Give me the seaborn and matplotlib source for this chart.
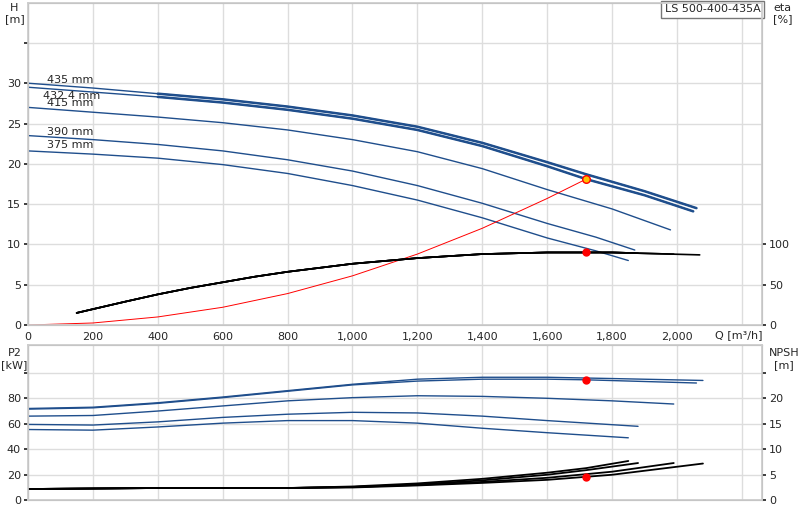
import numpy as np
import pandas as pd
import matplotlib.pyplot as plt
import seaborn as sns

# Q/H curves for each impeller diameter
diameters = ['435 mm', '432.4 mm', '415 mm', '390 mm', '375 mm']
q_h = {
    '435 mm':   [0, 200, 400, 600, 800, 1000, 1200, 1400, 1600, 1720, 1900, 2060],
    '432.4 mm': [0, 200, 400, 600, 800, 1000, 1200, 1400, 1600, 1720, 1900, 2050],
    '415 mm':   [0, 200, 400, 600, 800, 1000, 1200, 1400, 1600, 1800, 1980],
    '390 mm':   [0, 200, 400, 600, 800, 1000, 1200, 1400, 1600, 1750, 1870],
    '375 mm':   [0, 200, 400, 600, 800, 1000, 1200, 1400, 1600, 1750, 1850],
}
h_vals = {
    '435 mm':   [30.0, 29.4, 28.7, 28.0, 27.1, 26.0, 24.6, 22.6, 20.2, 18.7, 16.6, 14.5],
    '432.4 mm': [29.5, 28.9, 28.3, 27.6, 26.7, 25.6, 24.2, 22.2, 19.7, 18.1, 16.1, 14.1],
    '415 mm':   [27.0, 26.4, 25.8, 25.1, 24.2, 23.0, 21.5, 19.4, 16.8, 14.4, 11.8],
    '390 mm':   [23.5, 23.0, 22.4, 21.6, 20.5, 19.1, 17.3, 15.1, 12.6, 10.9, 9.3],
    '375 mm':   [21.6, 21.2, 20.7, 19.9, 18.8, 17.3, 15.5, 13.3, 10.8, 9.2, 8.0],
}
# system curve
sys_q = [0, 200, 400, 600, 800, 1000, 1200, 1400, 1600, 1720]
sys_h = [0, 0.25, 1.0, 2.2, 3.9, 6.1, 8.8, 12.0, 15.7, 18.1]
# efficiency curves (eta %)
eta_q = [150, 300, 400, 500, 600, 700, 800, 1000, 1200, 1400, 1600, 1800, 2070]
eta_vals = [15, 29, 38, 46, 53, 60, 66, 76, 83, 88, 90, 90, 87]
eta_ends = [1850, 1880, 1990, 2070]
# P2 curves
p2_q = {
    '435 mm':   [0, 200, 400, 600, 800, 1000, 1200, 1400, 1600, 1800, 2080],
    '432.4 mm': [0, 200, 400, 600, 800, 1000, 1200, 1400, 1600, 1720, 2060],
    '415 mm':   [0, 200, 400, 600, 800, 1000, 1200, 1400, 1600, 1800, 1990],
    '390 mm':   [0, 200, 400, 600, 800, 1000, 1200, 1400, 1600, 1880],
    '375 mm':   [0, 200, 400, 600, 800, 1000, 1200, 1400, 1600, 1850],
}
p2_vals = {
    '435 mm':   [72, 73, 76.5, 81, 86, 91, 95, 96.5, 96.5, 95.5, 94],
    '432.4 mm': [71.5, 72.5, 76, 80.5, 85.5, 90.5, 93.5, 95, 95, 94.5, 92],
    '415 mm':   [66, 66.5, 70, 74, 78, 80.5, 82, 81.5, 80, 78, 75.5],
    '390 mm':   [59.5, 59, 61.5, 65, 67.5, 69, 68.5, 66, 62.5, 58],
    '375 mm':   [55.5, 55, 57.5, 60.5, 62.5, 62.5, 60.5, 56.5, 53, 49],
}
# NPSH curves
npsh_q = {
    '375 mm':   [0, 400, 800, 1000, 1200, 1400, 1600, 1720, 1850],
    '390 mm':   [0, 400, 800, 1000, 1200, 1400, 1600, 1720, 1880],
    '415 mm':   [0, 400, 800, 1000, 1200, 1400, 1600, 1800, 1990],
    '435 mm':   [0, 400, 800, 1000, 1200, 1400, 1600, 1800, 2080],
}
npsh_vals = {
    '375 mm':   [2.2, 2.4, 2.4, 2.7, 3.3, 4.2, 5.4, 6.3, 7.7],
    '390 mm':   [2.2, 2.4, 2.4, 2.6, 3.1, 3.9, 5.0, 5.9, 7.3],
    '415 mm':   [2.2, 2.4, 2.4, 2.6, 3.0, 3.6, 4.4, 5.6, 7.3],
    '435 mm':   [2.2, 2.4, 2.4, 2.5, 2.9, 3.4, 4.0, 5.0, 7.2],
}
duty_q = 1720
duty_h, duty_eta, duty_p2, duty_npsh = 18.1, 90, 94.5, 4.5

sns.set_theme(style="whitegrid")
plt.rcParams['font.family'] = ['DejaVu Sans']
blue = '#1f4e8c'
fig = plt.figure(figsize=(8, 5.2), dpi=100)
ax1 = fig.add_axes([0.035, 0.375, 0.9175, 0.62])
ax2 = fig.add_axes([0.035, 0.038, 0.9175, 0.298])

for ax in (ax1, ax2):
    ax.set_xlim(0, 2262)
    ax.set_xticks(range(0, 2201, 200))
    ax.grid(True, color='#dddddd', linewidth=1)
    for s in ax.spines.values():
        s.set_color('#999999')
        s.set_linewidth(0.8)
    ax.tick_params(labelsize=8, length=3, pad=2)

ax1.xaxis.set_major_formatter(plt.FuncFormatter(lambda v, p: '' if v == 2200 else f'{int(v):,}'))
ax2.set_xticklabels([])

# top: H
for d in diameters:
    sns.lineplot(x=q_h[d], y=h_vals[d], ax=ax1, color=blue, linewidth=1.0, sort=False)
    if d in ('435 mm', '432.4 mm'):
        qq = [q for q in q_h[d] if q >= 400]
        hh = [h for q, h in zip(q_h[d], h_vals[d]) if q >= 400]
        sns.lineplot(x=qq, y=hh, ax=ax1, color=blue, linewidth=1.8, sort=False)
sns.lineplot(x=sys_q, y=sys_h, ax=ax1, color='red', linewidth=0.7, sort=False)
eta_df = pd.DataFrame({'q': eta_q, 'h': np.array(eta_vals) / 10})
for end in eta_ends:
    sub = eta_df[eta_df.q <= end]
    last = np.interp(end, eta_q, np.array(eta_vals) / 10)
    sns.lineplot(x=list(sub.q) + [end], y=list(sub.h) + [last], ax=ax1, color='black', linewidth=1.2, sort=False)
ax1.scatter([duty_q], [duty_h], s=30, color='#ffc000', edgecolor='red', zorder=5)
ax1.scatter([duty_q], [duty_eta / 10], s=25, color='red', zorder=5)
label_pos = {'435 mm': 30.4, '432.4 mm': 28.4, '415 mm': 27.6, '390 mm': 24.0, '375 mm': 22.3}
for d in diameters:
    ax1.text(60 if d != '432.4 mm' else 45, label_pos[d], d, fontsize=8, va='center')
ax1.set_ylim(0, 40)
ax1.set_yticks(range(0, 36, 5))
ax1.yaxis.set_major_formatter(plt.FuncFormatter(lambda v, p: '' if v == 35 else f'{int(v)}'))
ax1r = ax1.twinx()
ax1r.set_ylim(0, 400)
ax1r.set_yticks([0, 50, 100])
ax1r.grid(False)
ax1r.tick_params(labelsize=8, length=3, pad=2)
fig.text(0.018, 0.995, 'H\n[m]', fontsize=8, ha='center', va='top')
fig.text(0.978, 0.995, 'eta\n[%]', fontsize=8, ha='center', va='top')
ax1.text(0.998, 0.995, 'LS 500-400-435A', transform=ax1.transAxes, fontsize=8, ha='right', va='top',
         bbox=dict(facecolor='white', edgecolor='#777777', boxstyle='square,pad=0.3'))
fig.text(0.953, 0.355, 'Q [m³/h]', fontsize=8, ha='right', va='center')

# bottom: P2 and NPSH
for d in diameters:
    sns.lineplot(x=p2_q[d], y=p2_vals[d], ax=ax2, color=blue, linewidth=1.0, sort=False)
ax2.scatter([duty_q], [duty_p2], s=25, color='red', zorder=5)
ax2.set_ylim(0, 121.6)
ax2.set_yticks(range(0, 101, 20))
ax2.yaxis.set_major_formatter(plt.FuncFormatter(lambda v, p: '' if v == 100 else f'{int(v)}'))
ax2r = ax2.twinx()
ax2r.set_ylim(0, 30.4)
ax2r.set_yticks(range(0, 26, 5))
ax2r.yaxis.set_major_formatter(plt.FuncFormatter(lambda v, p: '' if v == 25 else f'{int(v)}'))
ax2r.grid(False)
ax2r.tick_params(labelsize=8, length=3, pad=2)
for d in npsh_q:
    sns.lineplot(x=npsh_q[d], y=npsh_vals[d], ax=ax2r, color='black', linewidth=1.3, sort=False)
ax2r.scatter([duty_q], [duty_npsh], s=25, color='red', zorder=5)
fig.text(0.018, 0.33, 'P2\n[kW]', fontsize=8, ha='center', va='top')
fig.text(0.98, 0.33, 'NPSH\n[m]', fontsize=8, ha='center', va='top')

fig.savefig('out.png', dpi=100)
